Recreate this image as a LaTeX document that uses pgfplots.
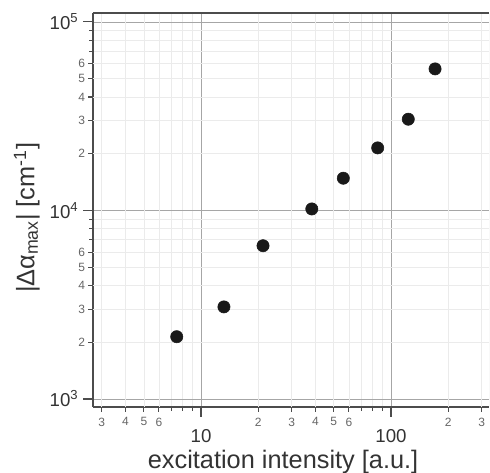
\documentclass[border=0pt]{standalone}
\usepackage{pgfplots}
\pgfplotsset{compat=1.18}
\usepackage{fontspec}
\setmainfont{Liberation Sans}
\begin{document}
\begin{tikzpicture}[x=1pt,y=1pt]
\useasboundingbox (-69.75,-49.5) rectangle (297.75,305.25);
\begin{axis}[
 at={(0,0)}, anchor=south west,
 scale only axis, width=297pt, height=295.5pt,
 xmode=log, ymode=log,
 xmin=2.70, xmax=328, ymin=907, ymax=111600,
 axis x line*=bottom, axis y line*=left,
 axis line style={black!70, line width=0.9pt},
 tick align=outside,
 tick style={black!70, line width=0.8pt},
 major tick length=7.5pt, minor tick length=3pt,
 /pgf/number format/assume math mode=true,
 xtick={10,100}, xticklabels={10,100},
 ytick={1000,10000,100000},
 yticklabels={10\textsuperscript{3},10\textsuperscript{4},10\textsuperscript{5}},
 minor xtick={7,8,9,70,80,90},
 minor ytick={7000,8000,9000,70000,80000,90000},
 extra x ticks={3,4,5,6,20,30,40,50,60,200,300},
 extra x tick labels={3,4,5,6,2,3,4,5,6,2,3},
 extra y ticks={2000,3000,4000,5000,6000,20000,30000,40000,50000,60000},
 extra y tick labels={2,3,4,5,6,2,3,4,5,6},
 xticklabel style={font=\fontsize{14}{14}\selectfont, text=black!80, yshift=-6pt},
 yticklabel style={font=\fontsize{14}{14}\selectfont, text=black!80},
 extra x tick style={grid=major, major grid style={black!8, line width=0.5pt}, major tick length=3.5pt,
   xticklabel style={font=\fontsize{9}{9}\selectfont, text=black!60, yshift=5pt}},
 extra y tick style={grid=major, major grid style={black!8, line width=0.5pt}, major tick length=3.5pt,
   yticklabel style={font=\fontsize{9}{9}\selectfont, text=black!60, inner ysep=0.3pt, xshift=1pt}},
 grid=both,
 major grid style={black!35, line width=0.5pt},
 minor grid style={black!8, line width=0.5pt},
 xlabel={excitation intensity [a.u.]},
 ylabel={|Δα\textsubscript{max}| [cm\textsuperscript{-1}]},
 label style={font=\fontsize{19}{19}\selectfont, text=black!80},
 xlabel style={at={(axis description cs:0.48,-0.139)}, anchor=center},
 ylabel style={at={(axis description cs:-0.167,0.48)}, anchor=center},
]
\addplot[only marks, mark=*, mark size=4.6pt, black!90] coordinates {
 (7.45,2140) (13.2,3080) (21.2,6500) (38.3,10190) (56.1,14830) (85.1,21480) (123.3,30490) (170.6,56370)
};
\draw[black!70, line width=0.9pt] (rel axis cs:0,1) -- (rel axis cs:1,1);
\draw[black!20, line width=0.5pt] (rel axis cs:1,0) -- (rel axis cs:1,1);
\end{axis}
\end{tikzpicture}
\end{document}
